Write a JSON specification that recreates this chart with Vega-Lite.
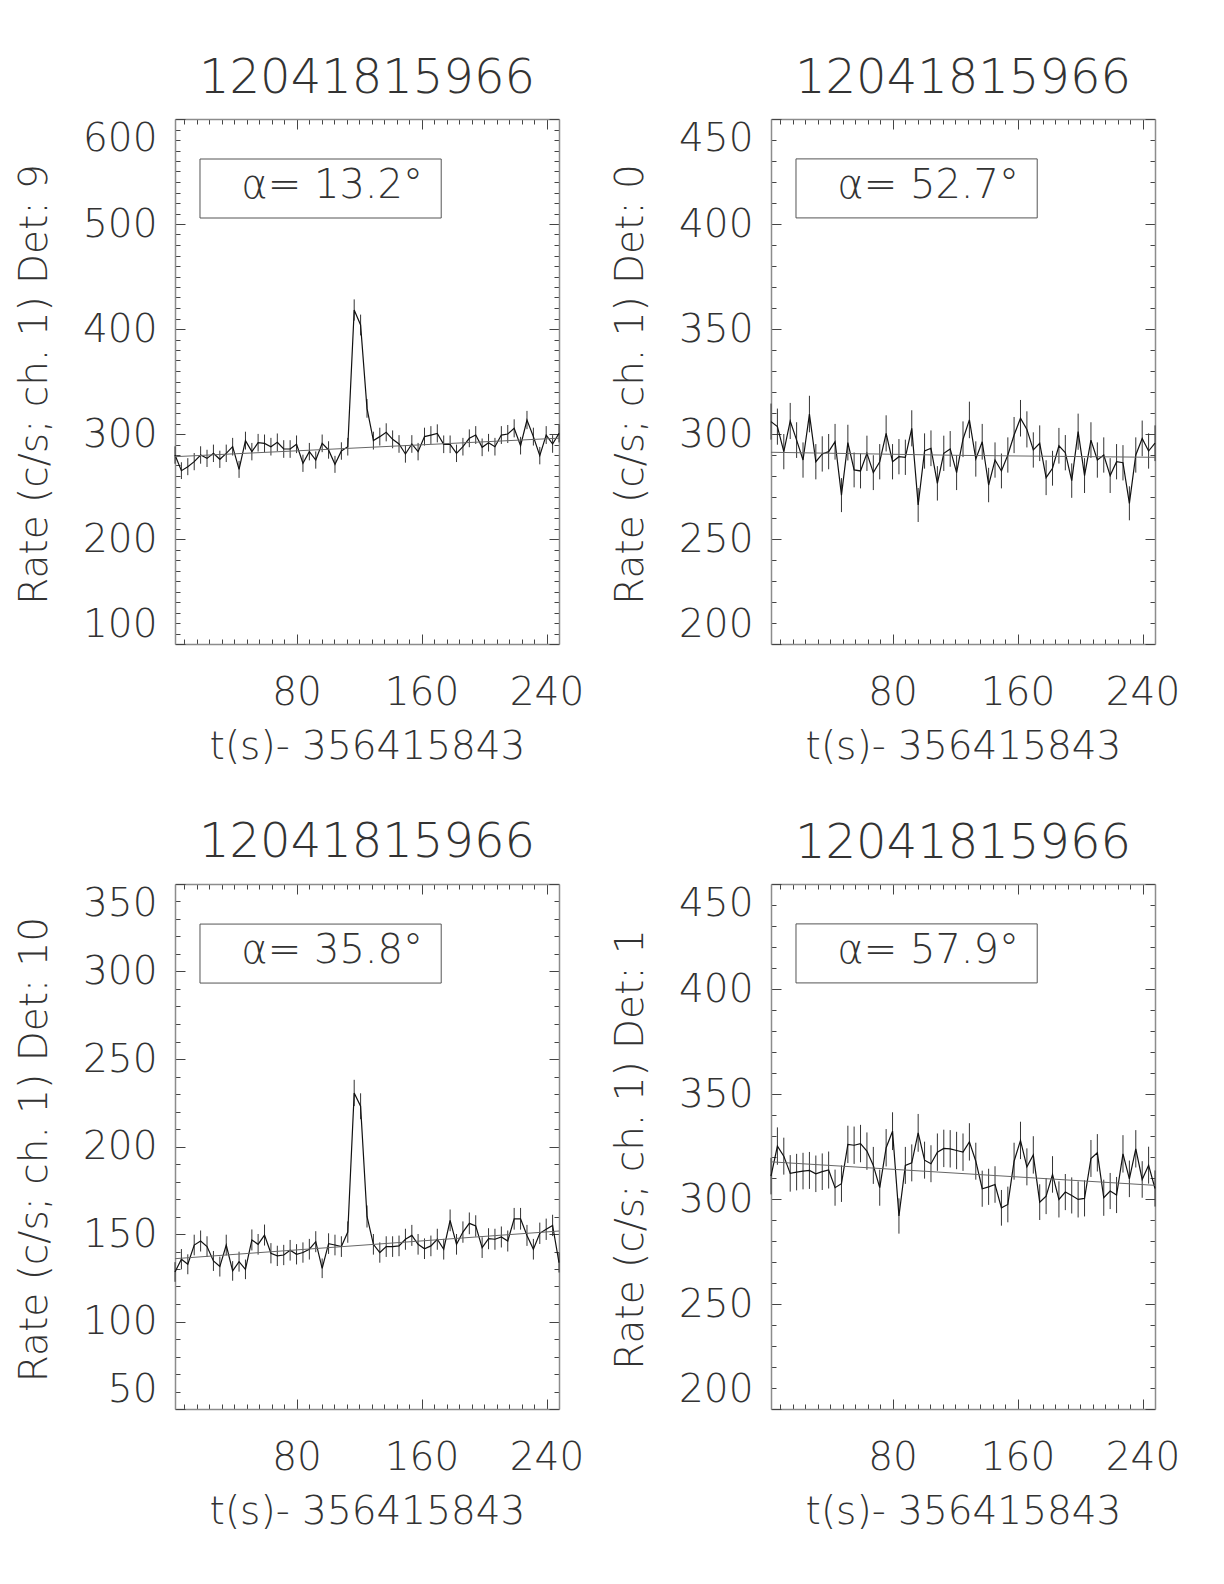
{
"$schema": "https://vega.github.io/schema/vega-lite/v6.json",
"padding": {"left": 14, "top": 54, "right": 10, "bottom": 10},
"background": "white",
"datasets": {
"lc": [
{"t":2.2,"r9":280.0,"e9":8.3,"r0":305.9,"e0":8.6,"r10":128.3,"e10":5.6,"r1":310.9,"e1":8.7},
{"t":6.3,"r9":265.1,"e9":8.0,"r0":303.5,"e0":8.6,"r10":135.6,"e10":5.8,"r1":325.2,"e1":8.9},
{"t":10.4,"r9":268.9,"e9":8.1,"r0":291.6,"e0":8.4,"r10":132.7,"e10":5.7,"r1":320.4,"e1":8.8},
{"t":14.5,"r9":273.7,"e9":8.2,"r0":306.2,"e0":8.6,"r10":143.7,"e10":5.9,"r1":312.2,"e1":8.7},
{"t":18.6,"r9":280.0,"e9":8.3,"r0":297.1,"e0":8.5,"r10":146.0,"e10":6.0,"r1":312.8,"e1":8.7},
{"t":22.7,"r9":276.8,"e9":8.2,"r0":287.6,"e0":8.4,"r10":142.8,"e10":5.9,"r1":313.3,"e1":8.7},
{"t":26.8,"r9":281.6,"e9":8.3,"r0":309.5,"e0":8.7,"r10":134.6,"e10":5.7,"r1":313.6,"e1":8.8},
{"t":30.9,"r9":275.9,"e9":8.2,"r0":286.8,"e0":8.4,"r10":131.4,"e10":5.7,"r1":312.0,"e1":8.7},
{"t":35.0,"r9":281.6,"e9":8.3,"r0":290.5,"e0":8.4,"r10":143.7,"e10":5.9,"r1":313.0,"e1":8.7},
{"t":39.1,"r9":287.9,"e9":8.4,"r0":291.6,"e0":8.4,"r10":128.9,"e10":5.6,"r1":313.8,"e1":8.8},
{"t":43.2,"r9":266.3,"e9":8.1,"r0":296.3,"e0":8.5,"r10":134.2,"e10":5.7,"r1":305.4,"e1":8.6},
{"t":47.3,"r9":293.7,"e9":8.5,"r0":270.9,"e0":8.1,"r10":129.8,"e10":5.6,"r1":307.3,"e1":8.7},
{"t":51.4,"r9":283.2,"e9":8.3,"r0":295.9,"e0":8.5,"r10":146.6,"e10":6.0,"r1":326.0,"e1":8.9},
{"t":55.4,"r9":291.7,"e9":8.4,"r0":282.9,"e0":8.3,"r10":144.1,"e10":5.9,"r1":325.6,"e1":8.9},
{"t":59.5,"r9":291.1,"e9":8.4,"r0":282.4,"e0":8.3,"r10":149.4,"e10":6.0,"r1":326.4,"e1":8.9},
{"t":63.6,"r9":287.9,"e9":8.4,"r0":290.8,"e0":8.4,"r10":139.0,"e10":5.8,"r1":322.8,"e1":8.9},
{"t":67.7,"r9":292.1,"e9":8.4,"r0":281.6,"e0":8.3,"r10":137.5,"e10":5.8,"r1":316.0,"e1":8.8},
{"t":71.8,"r9":285.7,"e9":8.4,"r0":286.8,"e0":8.4,"r10":138.0,"e10":5.8,"r1":305.4,"e1":8.6},
{"t":75.9,"r9":285.7,"e9":8.4,"r0":300.3,"e0":8.6,"r10":140.7,"e10":5.9,"r1":324.4,"e1":8.9},
{"t":80.0,"r9":290.2,"e9":8.4,"r0":286.8,"e0":8.4,"r10":138.4,"e10":5.8,"r1":332.3,"e1":9.0},
{"t":84.1,"r9":272.1,"e9":8.2,"r0":289.2,"e0":8.4,"r10":139.4,"e10":5.8,"r1":291.9,"e1":8.4},
{"t":88.2,"r9":283.2,"e9":8.3,"r0":288.9,"e0":8.4,"r10":141.3,"e10":5.9,"r1":316.0,"e1":8.8},
{"t":92.3,"r9":275.2,"e9":8.2,"r0":302.7,"e0":8.6,"r10":145.6,"e10":6.0,"r1":317.2,"e1":8.8},
{"t":96.4,"r9":291.1,"e9":8.4,"r0":266.2,"e0":8.1,"r10":130.4,"e10":5.6,"r1":331.5,"e1":9.0},
{"t":100.5,"r9":284.8,"e9":8.3,"r0":291.9,"e0":8.4,"r10":144.5,"e10":5.9,"r1":318.5,"e1":8.8},
{"t":104.6,"r9":271.1,"e9":8.1,"r0":293.2,"e0":8.5,"r10":143.7,"e10":5.9,"r1":316.8,"e1":8.8},
{"t":108.7,"r9":283.8,"e9":8.3,"r0":276.5,"e0":8.2,"r10":142.8,"e10":5.9,"r1":322.3,"e1":8.9},
{"t":112.8,"r9":287.9,"e9":8.4,"r0":290.8,"e0":8.4,"r10":151.1,"e10":6.1,"r1":324.1,"e1":8.9},
{"t":116.9,"r9":418.1,"e9":10.1,"r0":292.9,"e0":8.5,"r10":230.6,"e10":7.5,"r1":323.9,"e1":8.9},
{"t":121.0,"r9":403.8,"e9":9.9,"r0":281.6,"e0":8.3,"r10":223.0,"e10":7.4,"r1":323.1,"e1":8.9},
{"t":125.1,"r9":324.4,"e9":8.9,"r0":297.5,"e0":8.5,"r10":160.0,"e10":6.3,"r1":322.3,"e1":8.9},
{"t":129.2,"r9":293.7,"e9":8.5,"r0":306.7,"e0":8.7,"r10":144.1,"e10":5.9,"r1":327.2,"e1":8.9},
{"t":133.3,"r9":297.5,"e9":8.5,"r0":288.1,"e0":8.4,"r10":139.4,"e10":5.8,"r1":318.0,"e1":8.8},
{"t":137.4,"r9":301.6,"e9":8.6,"r0":296.3,"e0":8.5,"r10":142.8,"e10":5.9,"r1":304.9,"e1":8.6},
{"t":141.5,"r9":294.9,"e9":8.5,"r0":275.7,"e0":8.2,"r10":142.8,"e10":5.9,"r1":305.8,"e1":8.6},
{"t":145.6,"r9":290.5,"e9":8.4,"r0":287.6,"e0":8.4,"r10":143.2,"e10":5.9,"r1":306.9,"e1":8.7},
{"t":149.7,"r9":281.0,"e9":8.3,"r0":282.4,"e0":8.3,"r10":147.0,"e10":6.0,"r1":295.8,"e1":8.5},
{"t":153.8,"r9":290.5,"e9":8.4,"r0":290.0,"e0":8.4,"r10":149.2,"e10":6.0,"r1":297.4,"e1":8.5},
{"t":157.8,"r9":283.2,"e9":8.3,"r0":299.5,"e0":8.6,"r10":144.1,"e10":5.9,"r1":318.0,"e1":8.8},
{"t":161.9,"r9":297.5,"e9":8.5,"r0":307.5,"e0":8.7,"r10":141.6,"e10":5.9,"r1":327.9,"e1":8.9},
{"t":166.0,"r9":299.0,"e9":8.5,"r0":302.2,"e0":8.6,"r10":143.2,"e10":5.9,"r1":315.3,"e1":8.8},
{"t":170.1,"r9":300.6,"e9":8.6,"r0":292.4,"e0":8.4,"r10":147.0,"e10":6.0,"r1":321.0,"e1":8.9},
{"t":174.2,"r9":290.2,"e9":8.4,"r0":295.6,"e0":8.5,"r10":141.3,"e10":5.9,"r1":298.5,"e1":8.5},
{"t":178.3,"r9":290.2,"e9":8.4,"r0":279.2,"e0":8.3,"r10":157.8,"e10":6.2,"r1":301.4,"e1":8.6},
{"t":182.4,"r9":281.6,"e9":8.3,"r0":283.7,"e0":8.3,"r10":144.1,"e10":5.9,"r1":311.7,"e1":8.7},
{"t":186.5,"r9":287.9,"e9":8.4,"r0":294.4,"e0":8.5,"r10":151.1,"e10":6.1,"r1":299.8,"e1":8.6},
{"t":190.6,"r9":295.9,"e9":8.5,"r0":291.1,"e0":8.4,"r10":156.1,"e10":6.2,"r1":303.3,"e1":8.6},
{"t":194.7,"r9":299.0,"e9":8.5,"r0":277.8,"e0":8.2,"r10":154.6,"e10":6.1,"r1":301.7,"e1":8.6},
{"t":198.8,"r9":287.3,"e9":8.4,"r0":301.1,"e0":8.6,"r10":142.2,"e10":5.9,"r1":299.8,"e1":8.6},
{"t":202.9,"r9":291.7,"e9":8.4,"r0":280.2,"e0":8.3,"r10":147.3,"e10":6.0,"r1":300.3,"e1":8.6},
{"t":207.0,"r9":287.9,"e9":8.4,"r0":297.1,"e0":8.5,"r10":147.0,"e10":6.0,"r1":319.3,"e1":8.8},
{"t":211.1,"r9":299.0,"e9":8.5,"r0":287.6,"e0":8.4,"r10":148.3,"e10":6.0,"r1":322.0,"e1":8.9},
{"t":215.2,"r9":300.0,"e9":8.6,"r0":290.0,"e0":8.4,"r10":146.0,"e10":6.0,"r1":300.6,"e1":8.6},
{"t":219.3,"r9":305.4,"e9":8.6,"r0":280.2,"e0":8.3,"r10":158.7,"e10":6.2,"r1":303.8,"e1":8.6},
{"t":223.4,"r9":288.9,"e9":8.4,"r0":286.8,"e0":8.4,"r10":158.7,"e10":6.2,"r1":301.9,"e1":8.6},
{"t":227.5,"r9":313.3,"e9":8.7,"r0":286.3,"e0":8.4,"r10":149.2,"e10":6.0,"r1":321.5,"e1":8.9},
{"t":231.6,"r9":297.5,"e9":8.5,"r0":267.0,"e0":8.1,"r10":141.3,"e10":5.9,"r1":309.6,"e1":8.7},
{"t":235.7,"r9":279.4,"e9":8.3,"r0":290.0,"e0":8.4,"r10":150.4,"e10":6.1,"r1":323.9,"e1":8.9},
{"t":239.8,"r9":299.0,"e9":8.5,"r0":297.9,"e0":8.5,"r10":152.7,"e10":6.1,"r1":309.3,"e1":8.7},
{"t":243.9,"r9":290.5,"e9":8.4,"r0":291.9,"e0":8.4,"r10":154.9,"e10":6.1,"r1":316.1,"e1":8.8},
{"t":248.0,"r9":300.6,"e9":8.6,"r0":295.6,"e0":8.5,"r10":133.7,"e10":5.7,"r1":305.0,"e1":8.6}
],
"fit": [
{"t":2.2,"f9":278.4,"f0":291.3,"f10":135.9,"f1":317.7},
{"t":125.1,"f9":287.2,"f0":289.8,"f10":143.8,"f1":312.1},
{"t":248.0,"f9":296.0,"f0":288.9,"f10":151.7,"f1":306.5}
]
},
"columns": 2,
"spacing": {"row": 240, "column": 212},
"bounds": "flush",
"concat": [
{
"width": 384, "height": 525, "title": {"text": "12041815966", "offset": 8},
"layer": [
{"data": {"name": "lc"}, "mark": {"type": "errorbar", "ticks": false, "color": "#333", "thickness": 1},
 "encoding": {"x": {"field": "t", "type": "quantitative", "scale": {"domain": [2.2, 248], "nice": false, "zero": false}, "axis": null},
  "y": {"field": "r9", "type": "quantitative", "scale": {"domain": [100, 600], "nice": false, "zero": false}, "axis": null},
  "yError": {"field": "e9"}}},
{"data": {"name": "lc"}, "mark": {"type": "line", "color": "#111", "strokeWidth": 1.2},
 "encoding": {"x": {"field": "t", "type": "quantitative", "scale": {"domain": [2.2, 248], "nice": false, "zero": false},
   "axis": {"orient": "bottom", "values": [8,16,24,32,40,48,56,64,72,80,88,96,104,112,120,128,136,144,152,160,168,176,184,192,200,208,216,224,232,240], "labelExpr": "datum.value % 80 === 0 ? datum.label : ''", "tickSize": {"condition": {"test": "datum.value % 80 === 0", "value": -10}, "value": -5}, "labelPadding": 70, "labelBaseline": "alphabetic", "labelFlush": false, "title": "t(s)- 356415843", "titleY": 114, "titleBaseline": "alphabetic"}},
  "y": {"field": "r9", "type": "quantitative", "scale": {"domain": [100, 600], "nice": false, "zero": false},
   "axis": {"orient": "left", "values": [100,110,120,130,140,150,160,170,180,190,200,210,220,230,240,250,260,270,280,290,300,310,320,330,340,350,360,370,380,390,400,410,420,430,440,450,460,470,480,490,500,510,520,530,540,550,560,570,580,590,600], "labelExpr": "datum.value % 100 === 0 ? datum.label : ''", "tickSize": {"condition": {"test": "datum.value % 100 === 0", "value": -10}, "value": -5}, "labelPadding": 28, "labelFlush": true, "title": "Rate (c/s; ch. 1) Det: 9", "titleX": -129, "titleY": 265, "titleBaseline": "alphabetic", "titleAngle": 270}}}},
{"data": {"name": "fit"}, "mark": {"type": "line", "color": "#666", "strokeWidth": 1},
 "encoding": {"x": {"field": "t", "type": "quantitative", "scale": {"domain": [2.2, 248], "nice": false, "zero": false},
   "axis": {"orient": "top", "values": [8,16,24,32,40,48,56,64,72,80,88,96,104,112,120,128,136,144,152,160,168,176,184,192,200,208,216,224,232,240], "labels": false, "title": null, "tickSize": {"condition": {"test": "datum.value % 80 === 0", "value": -10}, "value": -5}}},
  "y": {"field": "f9", "type": "quantitative", "scale": {"domain": [100, 600], "nice": false, "zero": false},
   "axis": {"orient": "right", "values": [100,110,120,130,140,150,160,170,180,190,200,210,220,230,240,250,260,270,280,290,300,310,320,330,340,350,360,370,380,390,400,410,420,430,440,450,460,470,480,490,500,510,520,530,540,550,560,570,580,590,600], "labels": false, "title": null, "tickSize": {"condition": {"test": "datum.value % 100 === 0", "value": -10}, "value": -5}}}}},
{"data": {"values": [{}]}, "mark": {"type": "rect", "fillOpacity": 0, "stroke": "#555", "strokeWidth": 1},
 "encoding": {"x": {"datum": 18.2, "type": "quantitative", "scale": {"domain": [2.2, 248], "nice": false, "zero": false}, "axis": null}, "x2": {"datum": 172.6},
  "y": {"datum": 505.7, "type": "quantitative", "scale": {"domain": [100, 600], "nice": false, "zero": false}, "axis": null}, "y2": {"datum": 561.9}}},
{"data": {"values": [{}]}, "mark": {"type": "text", "fontSize": 40, "font": "DejaVu Sans", "fontWeight": 200, "color": "#333", "align": "center", "baseline": "middle"},
 "encoding": {"x": {"datum": 102.8, "type": "quantitative", "scale": {"domain": [2.2, 248], "nice": false, "zero": false}, "axis": null},
  "y": {"datum": 536.2, "type": "quantitative", "scale": {"domain": [100, 600], "nice": false, "zero": false}, "axis": null}, "text": {"value": "α= 13.2°"}}}
],
"resolve": {"axis": {"x": "independent", "y": "independent"}}
},
{
"width": 384, "height": 525, "title": {"text": "12041815966", "offset": 16},
"layer": [
{"data": {"name": "lc"}, "mark": {"type": "errorbar", "ticks": false, "color": "#333", "thickness": 1},
 "encoding": {"x": {"field": "t", "type": "quantitative", "scale": {"domain": [2.2, 248], "nice": false, "zero": false}, "axis": null},
  "y": {"field": "r0", "type": "quantitative", "scale": {"domain": [200, 450], "nice": false, "zero": false}, "axis": null},
  "yError": {"field": "e0"}}},
{"data": {"name": "lc"}, "mark": {"type": "line", "color": "#111", "strokeWidth": 1.2},
 "encoding": {"x": {"field": "t", "type": "quantitative", "scale": {"domain": [2.2, 248], "nice": false, "zero": false},
   "axis": {"orient": "bottom", "values": [8,16,24,32,40,48,56,64,72,80,88,96,104,112,120,128,136,144,152,160,168,176,184,192,200,208,216,224,232,240], "labelExpr": "datum.value % 80 === 0 ? datum.label : ''", "tickSize": {"condition": {"test": "datum.value % 80 === 0", "value": -10}, "value": -5}, "labelPadding": 70, "labelBaseline": "alphabetic", "labelFlush": false, "title": "t(s)- 356415843", "titleY": 114, "titleBaseline": "alphabetic"}},
  "y": {"field": "r0", "type": "quantitative", "scale": {"domain": [200, 450], "nice": false, "zero": false},
   "axis": {"orient": "left", "values": [200,210,220,230,240,250,260,270,280,290,300,310,320,330,340,350,360,370,380,390,400,410,420,430,440,450], "labelExpr": "datum.value % 50 === 0 ? datum.label : ''", "tickSize": {"condition": {"test": "datum.value % 50 === 0", "value": -10}, "value": -5}, "labelPadding": 28, "labelFlush": true, "title": "Rate (c/s; ch. 1) Det: 0", "titleX": -129, "titleY": 265, "titleBaseline": "alphabetic", "titleAngle": 270}}}},
{"data": {"name": "fit"}, "mark": {"type": "line", "color": "#666", "strokeWidth": 1},
 "encoding": {"x": {"field": "t", "type": "quantitative", "scale": {"domain": [2.2, 248], "nice": false, "zero": false},
   "axis": {"orient": "top", "values": [8,16,24,32,40,48,56,64,72,80,88,96,104,112,120,128,136,144,152,160,168,176,184,192,200,208,216,224,232,240], "labels": false, "title": null, "tickSize": {"condition": {"test": "datum.value % 80 === 0", "value": -10}, "value": -5}}},
  "y": {"field": "f0", "type": "quantitative", "scale": {"domain": [200, 450], "nice": false, "zero": false},
   "axis": {"orient": "right", "values": [200,210,220,230,240,250,260,270,280,290,300,310,320,330,340,350,360,370,380,390,400,410,420,430,440,450], "labels": false, "title": null, "tickSize": {"condition": {"test": "datum.value % 50 === 0", "value": -10}, "value": -5}}}}},
{"data": {"values": [{}]}, "mark": {"type": "rect", "fillOpacity": 0, "stroke": "#555", "strokeWidth": 1},
 "encoding": {"x": {"datum": 18.2, "type": "quantitative", "scale": {"domain": [2.2, 248], "nice": false, "zero": false}, "axis": null}, "x2": {"datum": 172.6},
  "y": {"datum": 402.9, "type": "quantitative", "scale": {"domain": [200, 450], "nice": false, "zero": false}, "axis": null}, "y2": {"datum": 431.0}}},
{"data": {"values": [{}]}, "mark": {"type": "text", "fontSize": 40, "font": "DejaVu Sans", "fontWeight": 200, "color": "#333", "align": "center", "baseline": "middle"},
 "encoding": {"x": {"datum": 102.8, "type": "quantitative", "scale": {"domain": [2.2, 248], "nice": false, "zero": false}, "axis": null},
  "y": {"datum": 418.1, "type": "quantitative", "scale": {"domain": [200, 450], "nice": false, "zero": false}, "axis": null}, "text": {"value": "α= 52.7°"}}}
],
"resolve": {"axis": {"x": "independent", "y": "independent"}}
},
{
"width": 384, "height": 525, "title": {"text": "12041815966", "offset": 16},
"layer": [
{"data": {"name": "lc"}, "mark": {"type": "errorbar", "ticks": false, "color": "#333", "thickness": 1},
 "encoding": {"x": {"field": "t", "type": "quantitative", "scale": {"domain": [2.2, 248], "nice": false, "zero": false}, "axis": null},
  "y": {"field": "r10", "type": "quantitative", "scale": {"domain": [50, 350], "nice": false, "zero": false}, "axis": null},
  "yError": {"field": "e10"}}},
{"data": {"name": "lc"}, "mark": {"type": "line", "color": "#111", "strokeWidth": 1.2},
 "encoding": {"x": {"field": "t", "type": "quantitative", "scale": {"domain": [2.2, 248], "nice": false, "zero": false},
   "axis": {"orient": "bottom", "values": [8,16,24,32,40,48,56,64,72,80,88,96,104,112,120,128,136,144,152,160,168,176,184,192,200,208,216,224,232,240], "labelExpr": "datum.value % 80 === 0 ? datum.label : ''", "tickSize": {"condition": {"test": "datum.value % 80 === 0", "value": -10}, "value": -5}, "labelPadding": 70, "labelBaseline": "alphabetic", "labelFlush": false, "title": "t(s)- 356415843", "titleY": 114, "titleBaseline": "alphabetic"}},
  "y": {"field": "r10", "type": "quantitative", "scale": {"domain": [50, 350], "nice": false, "zero": false},
   "axis": {"orient": "left", "values": [50,60,70,80,90,100,110,120,130,140,150,160,170,180,190,200,210,220,230,240,250,260,270,280,290,300,310,320,330,340,350], "labelExpr": "datum.value % 50 === 0 ? datum.label : ''", "tickSize": {"condition": {"test": "datum.value % 50 === 0", "value": -10}, "value": -5}, "labelPadding": 28, "labelFlush": true, "title": "Rate (c/s; ch. 1) Det: 10", "titleX": -129, "titleY": 265, "titleBaseline": "alphabetic", "titleAngle": 270}}}},
{"data": {"name": "fit"}, "mark": {"type": "line", "color": "#666", "strokeWidth": 1},
 "encoding": {"x": {"field": "t", "type": "quantitative", "scale": {"domain": [2.2, 248], "nice": false, "zero": false},
   "axis": {"orient": "top", "values": [8,16,24,32,40,48,56,64,72,80,88,96,104,112,120,128,136,144,152,160,168,176,184,192,200,208,216,224,232,240], "labels": false, "title": null, "tickSize": {"condition": {"test": "datum.value % 80 === 0", "value": -10}, "value": -5}}},
  "y": {"field": "f10", "type": "quantitative", "scale": {"domain": [50, 350], "nice": false, "zero": false},
   "axis": {"orient": "right", "values": [50,60,70,80,90,100,110,120,130,140,150,160,170,180,190,200,210,220,230,240,250,260,270,280,290,300,310,320,330,340,350], "labels": false, "title": null, "tickSize": {"condition": {"test": "datum.value % 50 === 0", "value": -10}, "value": -5}}}}},
{"data": {"values": [{}]}, "mark": {"type": "rect", "fillOpacity": 0, "stroke": "#555", "strokeWidth": 1},
 "encoding": {"x": {"datum": 18.2, "type": "quantitative", "scale": {"domain": [2.2, 248], "nice": false, "zero": false}, "axis": null}, "x2": {"datum": 172.6},
  "y": {"datum": 293.4, "type": "quantitative", "scale": {"domain": [50, 350], "nice": false, "zero": false}, "axis": null}, "y2": {"datum": 327.1}}},
{"data": {"values": [{}]}, "mark": {"type": "text", "fontSize": 40, "font": "DejaVu Sans", "fontWeight": 200, "color": "#333", "align": "center", "baseline": "middle"},
 "encoding": {"x": {"datum": 102.8, "type": "quantitative", "scale": {"domain": [2.2, 248], "nice": false, "zero": false}, "axis": null},
  "y": {"datum": 311.7, "type": "quantitative", "scale": {"domain": [50, 350], "nice": false, "zero": false}, "axis": null}, "text": {"value": "α= 35.8°"}}}
],
"resolve": {"axis": {"x": "independent", "y": "independent"}}
},
{
"width": 384, "height": 525, "title": {"text": "12041815966", "offset": 16},
"layer": [
{"data": {"name": "lc"}, "mark": {"type": "errorbar", "ticks": false, "color": "#333", "thickness": 1},
 "encoding": {"x": {"field": "t", "type": "quantitative", "scale": {"domain": [2.2, 248], "nice": false, "zero": false}, "axis": null},
  "y": {"field": "r1", "type": "quantitative", "scale": {"domain": [200, 450], "nice": false, "zero": false}, "axis": null},
  "yError": {"field": "e1"}}},
{"data": {"name": "lc"}, "mark": {"type": "line", "color": "#111", "strokeWidth": 1.2},
 "encoding": {"x": {"field": "t", "type": "quantitative", "scale": {"domain": [2.2, 248], "nice": false, "zero": false},
   "axis": {"orient": "bottom", "values": [8,16,24,32,40,48,56,64,72,80,88,96,104,112,120,128,136,144,152,160,168,176,184,192,200,208,216,224,232,240], "labelExpr": "datum.value % 80 === 0 ? datum.label : ''", "tickSize": {"condition": {"test": "datum.value % 80 === 0", "value": -10}, "value": -5}, "labelPadding": 70, "labelBaseline": "alphabetic", "labelFlush": false, "title": "t(s)- 356415843", "titleY": 114, "titleBaseline": "alphabetic"}},
  "y": {"field": "r1", "type": "quantitative", "scale": {"domain": [200, 450], "nice": false, "zero": false},
   "axis": {"orient": "left", "values": [200,210,220,230,240,250,260,270,280,290,300,310,320,330,340,350,360,370,380,390,400,410,420,430,440,450], "labelExpr": "datum.value % 50 === 0 ? datum.label : ''", "tickSize": {"condition": {"test": "datum.value % 50 === 0", "value": -10}, "value": -5}, "labelPadding": 28, "labelFlush": true, "title": "Rate (c/s; ch. 1) Det: 1", "titleX": -129, "titleY": 265, "titleBaseline": "alphabetic", "titleAngle": 270}}}},
{"data": {"name": "fit"}, "mark": {"type": "line", "color": "#666", "strokeWidth": 1},
 "encoding": {"x": {"field": "t", "type": "quantitative", "scale": {"domain": [2.2, 248], "nice": false, "zero": false},
   "axis": {"orient": "top", "values": [8,16,24,32,40,48,56,64,72,80,88,96,104,112,120,128,136,144,152,160,168,176,184,192,200,208,216,224,232,240], "labels": false, "title": null, "tickSize": {"condition": {"test": "datum.value % 80 === 0", "value": -10}, "value": -5}}},
  "y": {"field": "f1", "type": "quantitative", "scale": {"domain": [200, 450], "nice": false, "zero": false},
   "axis": {"orient": "right", "values": [200,210,220,230,240,250,260,270,280,290,300,310,320,330,340,350,360,370,380,390,400,410,420,430,440,450], "labels": false, "title": null, "tickSize": {"condition": {"test": "datum.value % 50 === 0", "value": -10}, "value": -5}}}}},
{"data": {"values": [{}]}, "mark": {"type": "rect", "fillOpacity": 0, "stroke": "#555", "strokeWidth": 1},
 "encoding": {"x": {"datum": 18.2, "type": "quantitative", "scale": {"domain": [2.2, 248], "nice": false, "zero": false}, "axis": null}, "x2": {"datum": 172.6},
  "y": {"datum": 402.9, "type": "quantitative", "scale": {"domain": [200, 450], "nice": false, "zero": false}, "axis": null}, "y2": {"datum": 431.0}}},
{"data": {"values": [{}]}, "mark": {"type": "text", "fontSize": 40, "font": "DejaVu Sans", "fontWeight": 200, "color": "#333", "align": "center", "baseline": "middle"},
 "encoding": {"x": {"datum": 102.8, "type": "quantitative", "scale": {"domain": [2.2, 248], "nice": false, "zero": false}, "axis": null},
  "y": {"datum": 418.1, "type": "quantitative", "scale": {"domain": [200, 450], "nice": false, "zero": false}, "axis": null}, "text": {"value": "α= 57.9°"}}}
],
"resolve": {"axis": {"x": "independent", "y": "independent"}}
}
],
"config": {
 "view": {"stroke": null},
 "font": "DejaVu Sans",
 "axis": {"grid": false, "domainColor": "#8c8c8c", "domainWidth": 1.5, "tickColor": "#444", "tickWidth": 1, "labelFont": "DejaVu Sans", "labelFontSize": 39, "labelFontWeight": 200, "labelColor": "#333", "titleFont": "DejaVu Sans", "titleFontSize": 39, "titleFontWeight": 200, "titleColor": "#333", "labelOverlap": false, "labelBound": false},
 "title": {"font": "DejaVu Sans", "fontSize": 48, "fontWeight": 200, "color": "#333", "anchor": "middle", "frame": "group", "baseline": "alphabetic"}
}
}
